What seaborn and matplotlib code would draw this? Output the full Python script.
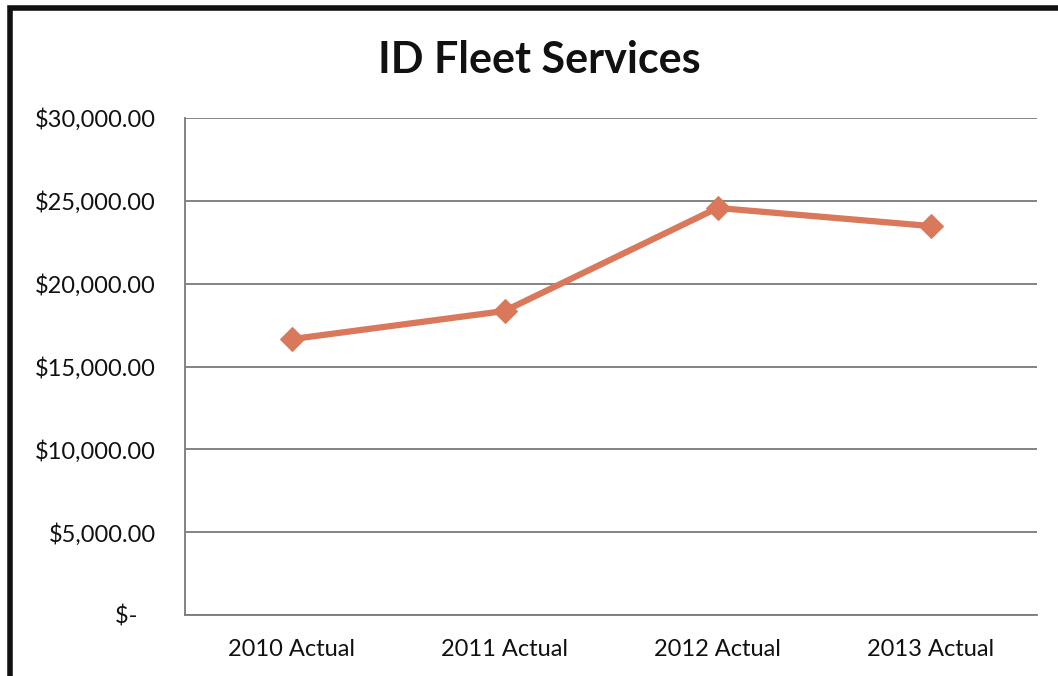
import matplotlib
matplotlib.use("Agg")
import matplotlib.pyplot as plt
import matplotlib.patches as mpatches
from matplotlib.ticker import FuncFormatter
import seaborn as sns
import pandas as pd

# Annual fleet service costs
categories = ["2010 Actual", "2011 Actual", "2012 Actual", "2013 Actual"]
costs = [16650, 18350, 24570, 23480]
y_ticks = [0, 5000, 10000, 15000, 20000, 25000, 30000]

df = pd.DataFrame({"year": categories, "cost": costs})

sns.set_theme(style="white")
plt.rcParams["font.family"] = ["Lato", "DejaVu Sans"]

W, H = 1058, 676
fig = plt.figure(figsize=(W / 100, H / 100), dpi=100)
ax = fig.add_axes([185 / W, 1 - 615 / H, (1037 - 185) / W, (615 - 118) / H])

sns.lineplot(data=df, x="year", y="cost", ax=ax, sort=False,
             color="#D9785A", linewidth=4.5, marker="D", markersize=12,
             markeredgecolor="#D9785A", zorder=3)

ax.set_xlim(-0.5, len(categories) - 0.5)
ax.set_ylim(0, 30000)
ax.set_yticks(y_ticks)


def money(v, _):
    # accounting style: zero shown as a dash, padded on the right
    return "$-   " if v == 0 else f"${v:,.2f}"


ax.yaxis.set_major_formatter(FuncFormatter(money))
ax.grid(axis="y", color="#7a7a7a", linewidth=1.3)
ax.set_axisbelow(True)
for side in ("top", "right"):
    ax.spines[side].set_visible(False)
for side in ("left", "bottom"):
    ax.spines[side].set_color("#7a7a7a")
    ax.spines[side].set_linewidth(1.3)

ax.tick_params(axis="y", labelsize=17, pad=21, colors="#111111", length=0)
ax.tick_params(axis="x", labelsize=17, pad=17, colors="#111111", length=0)
ax.set_xlabel("")
ax.set_ylabel("")

fig.text(539 / W, 1 - 60 / H, "ID Fleet Services", ha="center", va="center",
         fontsize=31, fontweight="bold", color="#111111")

# Outer chart border
fig.patches.append(mpatches.Rectangle((10 / W, -0.1), 1.2, 1 - 8 / H + 0.1,
                                      transform=fig.transFigure, fill=False,
                                      edgecolor="#111111", linewidth=4))

fig.savefig("out.png", dpi=100)
